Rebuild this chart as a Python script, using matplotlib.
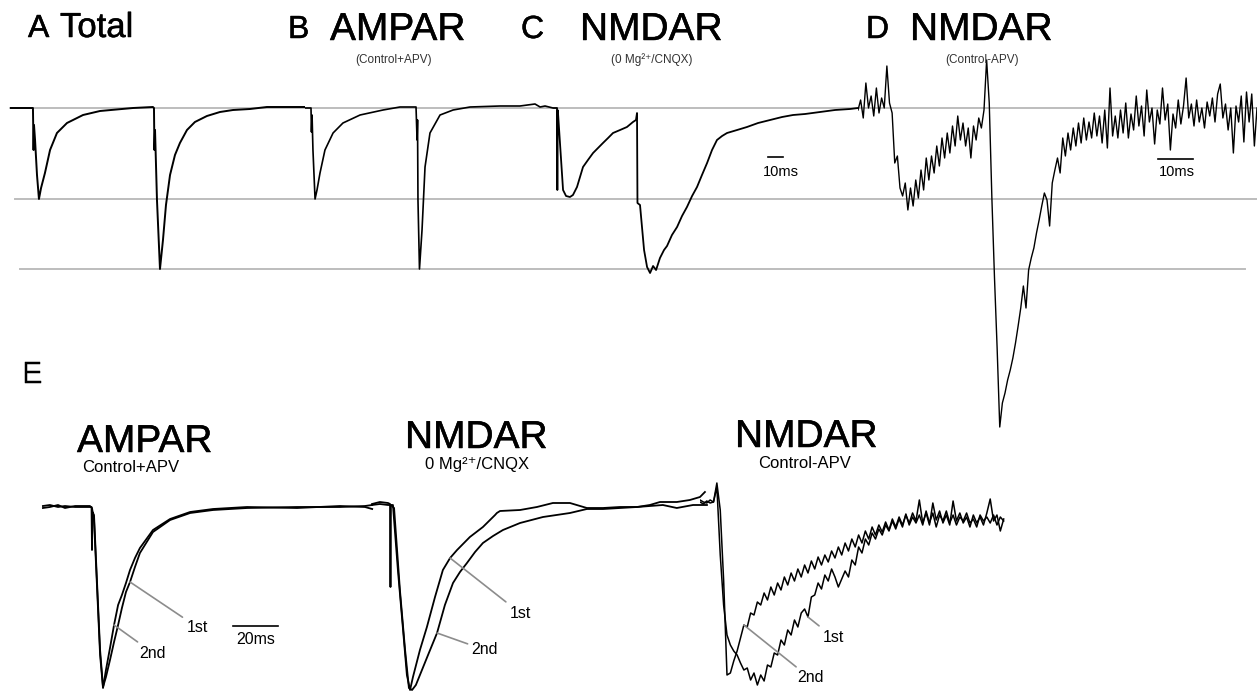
import matplotlib.pyplot as plt
import matplotlib.patheffects as pe
import numpy as np

plt.rcParams['font.family'] = ['Liberation Sans', 'DejaVu Sans']

# current levels: baseline, peak of 1st and of 2nd AMPAR response (pA)
ref_levels = [0, -91, -161]

# A: total EPSC, paired pulse (time in ms, current in pA)
a_t = [0, 15.3, 15.7, 16.0, 16.7, 18, 19.3, 20.7, 23.3, 26.7, 31.3, 38, 48.7, 60, 82, 95.3,
       96, 96.3, 96.7, 98, 100, 102, 104, 106.7, 110, 113.3, 118, 123.3, 131.3, 140, 148.7,
       160, 171.3, 186.7, 196.7]
a_i = [0, 0, -42, -17, -32, -67, -91, -80, -65, -42, -25, -15, -7, -3, 0, 1,
       0, -42, -22, -92, -161, -132, -97, -67, -47, -35, -22, -14, -8, -4, -2,
       -1, 1, 1, 1]

# B: AMPAR component
b_t = [0, 4, 4.3, 4.7, 5.3, 6.7, 8, 10, 13.3, 18.7, 25.3, 36.7, 52, 63.3, 74, 74.7, 75,
       75.3, 76.3, 78, 80, 83.3, 90, 98.7, 110, 130, 143.3, 153.3, 156.7, 160, 165.3]
b_i = [0, 0, -24, -7, -42, -91, -82, -65, -42, -25, -15, -7, -2, 1, 1, -32, -12,
       -92, -161, -122, -59, -25, -7, -2, 1, 2, 2, 4, 1, 2, 0]

# C: NMDAR component in 0 Mg2+ / CNQX
c_t = [0, 2, 2.7, 2.9, 3.1, 3.3, 6.7, 8.7, 11.3, 13.3, 16, 20, 23.3, 26.7, 30, 33.3, 36.7,
       40, 44.7, 49.3, 53.3, 55.3, 56, 56.3, 58, 60.7, 62.7, 64.7, 66.7, 68.7, 71.3, 74,
       76, 79.3, 82.7, 86, 89.3, 92.7, 96, 99.3, 102.7, 106, 109.3, 112.7, 116, 122.7,
       129.3, 136.7, 144.7, 152.7, 160, 168, 178, 188, 198, 203.3]
c_i = [0, 0, 0, -82, -2, -4, -82, -88, -89, -87, -79, -59, -52, -45, -40, -35, -30,
       -25, -22, -19, -14, -12, -5, -95, -97, -142, -159, -165, -158, -162, -150, -142,
       -138, -127, -119, -108, -99, -88, -79, -67, -55, -42, -32, -28, -25, -22,
       -19, -15, -12, -9, -7, -6, -4, -2, -1, 0]

# D: NMDAR component, control minus APV (sampled trace)
d_dt = 0.75
d_i = [-2, 8, -10, 25, 0, 12, -8, 20, -5, 10, 0, 42, 5,
       -5, -55, -48, -80, -88, -75, -102, -80, -98, -72, -90, -62, -82, -50, -72, -48,
       -65, -38, -58, -30, -50, -25, -45, -18, -38, -8, -32, -15, -38, -20, -50, -18,
       -32, -10, -20, -2, 48, 5, -90, -170, -240,
       -319, -295, -285, -272, -262, -250, -235, -218, -200, -178, -200, -162, -150,
       -140, -125, -112, -98, -85, -92, -118, -75, -62, -50, -65, -30, -48, -25, -42,
       -20, -38, -15, -35, -10, -32, -14, -30, -5, -28, -8, -35, -2, -40,
       20, -28, -8, -30, -2, -25, 5, -30, -6, -22, 12, -18, 2, -28, 18, -14, 0, -36, -2,
       -16, 20, -12, 4, -42, -6, -20, 8, -16, 2, 30, -10, 4, -18, 8, -14, 0, -20, 6,
       -8, 10, -14, 14, 24, -10, 4, -22, 0, -45, 2, -14, 12, -34, 16, -14, 14, -38, 0]

# E: normalised 1st and 2nd responses
e_ampa_t1 = [1.3, 4.4, 8.0, 11.1, 15.6, 22.2, 22.9, 23.1, 23.3, 24.0, 25.3, 26.7, 28.0,
             29.3, 31.1, 32.9, 34.7, 36.4, 38.2, 40.0, 42.2, 44.4, 50.2, 57.8, 66.7,
             76.9, 92.0, 114.2, 133.3, 144.4, 147.6]
e_ampa_1st = [-1, 0, -2, -1, -2, -2, -2, -45, -7, -10, -75, -145, -182,
              -172, -155, -137, -120, -103, -87, -77, -62, -48, -27, -15, -8,
              -5, -3, -2, -2, -1, 0]
e_ampa_t2 = [1.3, 4.4, 8.0, 11.1, 15.6, 22.2, 23.1, 24.0, 25.3, 26.7, 28.0, 29.3, 31.1,
             32.9, 34.7, 36.4, 38.2, 40.0, 42.2, 44.4, 50.2, 57.8, 66.7, 76.9, 92.0,
             114.2, 133.3, 144.4, 147.6]
e_ampa_2nd = [-3, -2, 0, -3, -1, -1, -3, -15, -80, -150, -183, -165, -143,
              -120, -100, -90, -78, -65, -53, -43, -25, -14, -7, -4, -2,
              -3, -1, -2, -4]

e_mg_t1 = [0.9, 4.4, 8.0, 8.9, 9.1, 9.3, 10.2, 12.4, 14.7, 16.4, 17.8, 19.1, 22.2, 25.3,
           28.9, 32.4, 35.6, 38.7, 44.4, 50.2, 55.6, 56.4, 57.8, 66.7, 74.2, 81.3, 88.9,
           96.4, 103.6, 111.1, 118.7, 124.4, 128.9, 136.4, 142.2, 146.7, 148.9]
e_mg_1st = [1, 3, 2, 1, -82, 0, 0, -65, -125, -170, -185, -172, -145, -122,
            -92, -65, -53, -45, -32, -22, -10, -8, -6, -5, -2, 2, 2,
            -3, -3, -2, -2, 0, 3, 3, 5, 8, 13]
e_mg_t2 = [0.9, 4.4, 8.0, 9.3, 10.7, 13.3, 15.6, 17.3, 18.7, 20.4, 22.2, 25.8, 29.8, 33.3,
           36.9, 40.0, 43.1, 46.7, 50.2, 54.7, 59.1, 66.7, 76.9, 88.9, 96.4, 103.6, 111.1,
           118.7, 130.2, 136.4, 143.6, 149.8]
e_mg_2nd = [0, 1, 0, 0, -3, -85, -145, -183, -185, -180, -170, -150, -128, -100,
            -78, -67, -58, -47, -38, -31, -25, -18, -12, -8, -4, -4, -3,
            -2, 0, -3, 0, 0]

e_apv_dt = 1.5
e_apv_1st = [5, 3, 2, 5, 3, 18,
             -50, -100, -130, -140, -146, -150, -158, -165,
             -163, -175, -168, -180, -170, -176, -160, -162, -148, -150, -135, -140, -125,
             -130, -115, -122, -108, -104, -112, -92, -90, -78, -84, -70, -76, -64, -72,
             -82, -74, -66, -72, -55, -60, -42, -48, -34, -40, -28, -34, -24, -30, -20,
             -26, -16, -24, -14, -22, -9, -20, -12, -18,
             -10, -20, -6, -18, -8, -22, -10, -16, -6, -18, -10, -20, -12, -16, -8, -18,
             -14, -22, -10, -16, -12, -18, -10, -20, -12, -16]
e_apv_2nd = [3, 1, 4, 2, 3, 22,
             -5, -75, -170, -168, -156, -146, -133, -120,
             -122, -108, -110, -97, -100, -88, -95, -82, -90, -78, -85, -72, -80, -68,
             -76, -64, -72, -60, -68, -56, -64, -52, -60, -50, -57, -46, -53, -42, -50,
             -38, -46, -34, -42, -30, -38, -26, -34, -22, -30, -20, -27, -17, -25, -14,
             -22, -12, -20, -10, -18, -8, -16,
             5, -18, -8, -20, 2, -15, -6, -18, -10, -20, 4, -16, -8, -18, -12, -22, -10,
             -18, -12, -20, -8, 6, -16, -10, -26, -14]

W, H = 1257, 694
fig = plt.figure(figsize=(W / 100, H / 100), dpi=100)


def add_panel(x0, x1, y0, y1, xlim, ylim):
    ax = fig.add_axes([x0 / W, 1 - y1 / H, (x1 - x0) / W, (y1 - y0) / H])
    ax.set_xlim(*xlim)
    ax.set_ylim(*ylim)
    ax.axis('off')
    ax.patch.set_alpha(0)
    return ax


heavy = [pe.withStroke(linewidth=0.35, foreground='k')]


def label(x, y, s, size, bold=False, **kw):
    t = fig.text(x / W, 1 - y / H, s, fontsize=size, va='baseline', **kw)
    if bold:
        t.set_path_effects(heavy)


top_ylim = (-332, 58)
e_ylim = (-189, 35)
grey = '#bdbdbd'
lead = '#8c8c8c'
arrow = dict(arrowstyle='-', color=lead, lw=1.2, shrinkA=1, shrinkB=0)

# reference levels running under the top row
bg = add_panel(0, W, 50, 440, (0, W), top_ylim)
for lvl, x0, x1 in zip(ref_levels, [10, 15, 20], [W, W, 1245]):
    bg.axhline(lvl, xmin=x0 / W, xmax=x1 / W, color=grey, lw=1.4, zorder=0)

ax_a = add_panel(10, 305, 50, 440, (0, 196.7), top_ylim)
ax_a.plot(a_t, a_i, color='k', lw=1.4)

ax_b = add_panel(305, 553, 50, 440, (0, 165.3), top_ylim)
ax_b.plot(b_t, b_i, color='k', lw=1.2)

ax_c = add_panel(553, 858, 50, 440, (0, 203.3), top_ylim)
ax_c.plot(c_t, c_i, color='k', lw=1.3)
ax_c.plot([143, 153], [-49, -49], color='k', lw=1.2)
ax_c.text(152, -64, '10ms', fontsize=10.5, ha='center', va='center')

ax_d = add_panel(858, 1257, 50, 440, (0, 114), top_ylim)
ax_d.plot(np.arange(len(d_i)) * d_dt, d_i, color='k', lw=1.0)
ax_d.plot([85.7, 95.7], [-51, -51], color='k', lw=1.2)
ax_d.text(91.1, -64, '10ms', fontsize=10.5, ha='center', va='center')

# E: overlaid 1st / 2nd responses
ax_e1 = add_panel(40, 385, 470, 694, (0, 153.3), e_ylim)
ax_e1.plot(e_ampa_t1, e_ampa_1st, color='k', lw=1.3)
ax_e1.plot(e_ampa_t2, e_ampa_2nd, color='k', lw=1.3)
ax_e1.plot([85.8, 105.8], [-121, -121], color='k', lw=1.2)
ax_e1.text(95.8, -135, '20ms', fontsize=11.5, ha='center', va='center')
ax_e1.annotate('1st', xy=(e_ampa_t1[19], e_ampa_1st[19]), xytext=(69.8, -122),
               fontsize=11.5, ha='center', va='center', arrowprops=arrow)
ax_e1.annotate('2nd', xy=(e_ampa_t2[13], e_ampa_2nd[13]), xytext=(50.2, -148),
               fontsize=11.5, ha='center', va='center', arrowprops=arrow)

ax_e2 = add_panel(370, 720, 470, 694, (0, 155.6), e_ylim)
ax_e2.plot(e_mg_t1, e_mg_1st, color='k', lw=1.3)
ax_e2.plot(e_mg_t2, e_mg_2nd, color='k', lw=1.3)
ax_e2.annotate('1st', xy=(e_mg_t1[16], e_mg_1st[16]), xytext=(66.7, -108),
               fontsize=11.5, ha='center', va='center', arrowprops=arrow)
ax_e2.annotate('2nd', xy=(e_mg_t2[12], e_mg_2nd[12]), xytext=(51.1, -145),
               fontsize=11.5, ha='center', va='center', arrowprops=arrow)

ax_e3 = add_panel(700, 1010, 470, 694, (0, 137.8), e_ylim)
t_apv = np.arange(len(e_apv_1st)) * e_apv_dt
ax_e3.plot(t_apv, e_apv_1st, color='k', lw=1.1)
ax_e3.plot(t_apv, e_apv_2nd, color='k', lw=1.1)
ax_e3.annotate('1st', xy=(t_apv[32], e_apv_1st[32]), xytext=(59.1, -132),
               fontsize=11.5, ha='center', va='center', arrowprops=arrow)
ax_e3.annotate('2nd', xy=(t_apv[13], e_apv_2nd[13]), xytext=(48.9, -173),
               fontsize=11.5, ha='center', va='center', arrowprops=arrow)

# panel letters and titles
label(28, 37, 'A', 23, bold=True)
label(60, 37, 'Total', 25, bold=True)
label(288, 38, 'B', 23, bold=True)
label(330, 40, 'AMPAR', 28, bold=True)
label(394, 63, '(Control+APV)', 8.5, ha='center', color='#333333')
label(521, 38, 'C', 23, bold=True)
label(580, 40, 'NMDAR', 28, bold=True)
label(652, 63, '(0 Mg²⁺/CNQX)', 8.5, ha='center', color='#333333')
label(866, 38, 'D', 23, bold=True)
label(910, 40, 'NMDAR', 28, bold=True)
label(982, 63, '(Control-APV)', 8.5, ha='center', color='#333333')

label(22, 383, 'E', 22, bold=True)
label(77, 452, 'AMPAR', 28, bold=True)
label(82, 472, 'Control+APV', 12)
label(405, 448, 'NMDAR', 28, bold=True)
label(425, 469, '0 Mg²⁺/CNQX', 12)
label(735, 447, 'NMDAR', 28, bold=True)
label(758, 468, 'Control-APV', 12)

fig.savefig('out.png', dpi=100)
